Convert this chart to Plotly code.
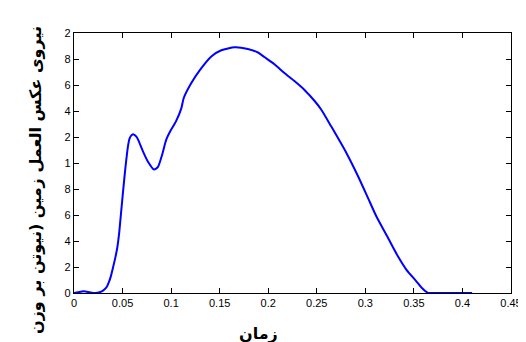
import plotly.graph_objects as go

time_s = [0.0, 0.004, 0.008, 0.012, 0.016, 0.02, 0.024, 0.028, 0.031, 0.034, 0.036,
          0.038, 0.040, 0.0425, 0.0446, 0.0465, 0.048, 0.0495, 0.0505, 0.0529, 0.0556,
          0.0573, 0.0595, 0.0615, 0.064, 0.066, 0.071, 0.0762, 0.0824, 0.0865, 0.0906,
          0.095, 0.0995, 0.105, 0.1105, 0.113, 0.1208, 0.1294, 0.1414, 0.1517, 0.1655,
          0.179, 0.1895, 0.196, 0.2067, 0.217, 0.227, 0.2376, 0.248, 0.2547, 0.265,
          0.2805, 0.2925, 0.3028, 0.3113, 0.3234, 0.3337, 0.3422, 0.3525, 0.358, 0.364,
          0.38, 0.395, 0.41]
force_bw = [0.0, 0.005, 0.012, 0.012, 0.005, 0.0, 0.002, 0.01, 0.025, 0.05, 0.085,
            0.13, 0.19, 0.27, 0.35, 0.46, 0.58, 0.70, 0.78, 0.96, 1.13,
            1.19, 1.215, 1.22, 1.205, 1.18, 1.09, 1.01, 0.95, 0.97, 1.06,
            1.18, 1.25, 1.32, 1.42, 1.50, 1.615, 1.713, 1.82, 1.867, 1.89,
            1.877, 1.85, 1.815, 1.757, 1.69, 1.63, 1.56, 1.475, 1.41, 1.28,
            1.077, 0.898, 0.73, 0.59, 0.423, 0.28, 0.18, 0.09, 0.04, 0.003,
            0.0, 0.0, 0.0]

x_ticks = [0, 0.05, 0.1, 0.15, 0.2, 0.25, 0.3, 0.35, 0.4, 0.45]
x_tick_text = ["0", "0.05", "0.1", "0.15", "0.2", "0.25", "0.3", "0.35", "0.4", "0.45"]
y_ticks = [0, 0.2, 0.4, 0.6, 0.8, 1.0, 1.2, 1.4, 1.6, 1.8, 2.0]
y_tick_text = ["0", "2", "4", "6", "8", "1", "2", "4", "6", "8", "2"]

x_title = "زمان"
y_title = "نیروی عکس العمل زمین (نیوتن بر وزن"

fig = go.Figure()
fig.add_trace(go.Scatter(x=time_s, y=force_bw, mode="lines",
                         line=dict(color="#0000FF", width=2, shape="spline", smoothing=0.6),
                         showlegend=False, hoverinfo="skip"))

axis_common = dict(showgrid=False, zeroline=False, showline=True, linecolor="black",
                   linewidth=1.3, mirror="allticks", ticks="inside", ticklen=5,
                   tickcolor="black", tickwidth=1,
                   tickfont=dict(family="Liberation Sans, Arial, sans-serif", size=11, color="black"))

fig.update_xaxes(range=[0, 0.45], tickvals=x_ticks, ticktext=x_tick_text, **axis_common)
fig.update_yaxes(range=[0, 2.0], tickvals=y_ticks, ticktext=y_tick_text, **axis_common)

fig.add_annotation(text="<b>" + x_title + "</b>", xref="paper", yref="paper",
                   x=(250 - 66) / 437, y=-(326 - 285) / 260, showarrow=False,
                   font=dict(family="DejaVu Sans", size=16, color="black"),
                   xanchor="center", yanchor="middle")
fig.add_annotation(text="<b>" + y_title + "</b>", xref="paper", yref="paper",
                   x=-(66 - 27) / 437, y=(285 - 172) / 260, showarrow=False, textangle=-90,
                   font=dict(family="DejaVu Sans", size=16, color="black"),
                   xanchor="center", yanchor="middle")

fig.update_layout(width=526, height=342, plot_bgcolor="white", paper_bgcolor="white",
                  margin=dict(l=66, r=23, t=25, b=57))

fig.write_html("out.html")
